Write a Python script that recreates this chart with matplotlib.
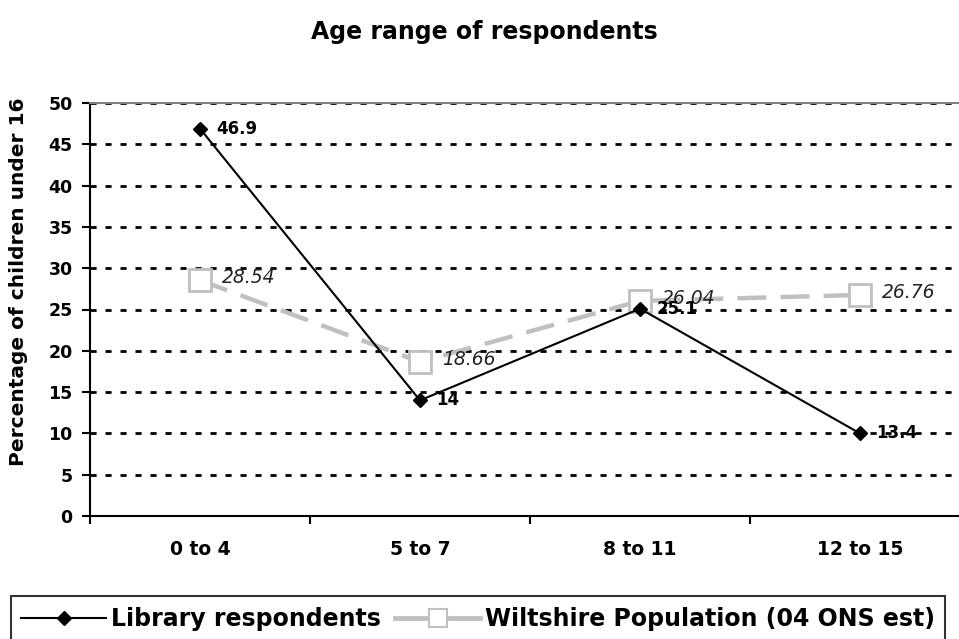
import matplotlib
matplotlib.use("Agg")
import matplotlib.pyplot as plt
from matplotlib.ticker import FixedLocator
from matplotlib.lines import Line2D

categories = ["0 to 4", "5 to 7", "8 to 11", "12 to 15"]
# marker heights (last point sits on the 10 gridline)
library = [46.9, 14, 25.1, 10.0]
wiltshire = [28.54, 18.66, 26.04, 26.76]
library_labels = ["46.9", "14", "25.1", "13.4"]
wiltshire_labels = ["28.54", "18.66", "26.04", "26.76"]

plt.rcParams['font.family'] = ['DejaVu Sans']

fig = plt.figure(figsize=(9.59, 6.39), dpi=100)
W, H = 959, 639
left, right, top, bottom = 90, 970, 103, 516
ax = fig.add_axes([left / W, 1 - bottom / H, (right - left) / W, (bottom - top) / H])

x = list(range(len(categories)))
gray = "#C0C0C0"

for yv in range(5, 51, 5):
    ax.axhline(yv, color="black", lw=2.0, dashes=(2.2, 3.2), zorder=1)

ax.plot(x, wiltshire, color=gray, lw=3.2, dashes=(6.5, 3.2), marker="s", markersize=16,
        markerfacecolor="white", markeredgecolor=gray, markeredgewidth=2, zorder=2)
ax.plot(x, library, color="black", lw=1.5, marker="D", markersize=7,
        markerfacecolor="black", markeredgecolor="black", zorder=3)

for xi, v, t in zip(x, library, library_labels):
    ax.annotate(t, (xi, v), xytext=(12, 0), textcoords="offset points", ha="left", va="center",
                fontsize=12, fontweight="bold", color="black", zorder=5)
for xi, v, t in zip(x, wiltshire, wiltshire_labels):
    ax.annotate(t, (xi, v), xytext=(16, 2), textcoords="offset points", ha="left", va="center",
                fontsize=13.5, fontstyle="italic", color="#222222", zorder=4)

ax.set_xlim(-0.5, 3.5)
ax.set_ylim(0, 50)
ax.set_yticks(range(0, 51, 5))
ax.set_xticks(x)
ax.set_xticklabels(categories, fontsize=13.5, fontweight="bold")
ax.xaxis.set_minor_locator(FixedLocator([-0.5, 0.5, 1.5, 2.5, 3.5]))
ax.tick_params(axis="x", which="major", length=0, pad=17)
ax.tick_params(axis="x", which="minor", length=5.5, width=1.5, direction="out")
ax.tick_params(axis="y", length=5.5, width=1.5, direction="out", labelsize=12.5, pad=7)
for lab in ax.get_yticklabels():
    lab.set_fontweight("bold")

ax.spines["top"].set_color("#808080")
ax.spines["top"].set_linewidth(1.5)
ax.spines["right"].set_visible(False)
ax.spines["left"].set_linewidth(1.5)
ax.spines["bottom"].set_linewidth(1.5)

ax.set_ylabel("Percentage of children under 16", fontsize=14.5, fontweight="bold")
ax.yaxis.set_label_coords(-0.07, 0.567)
fig.text(484 / W, 1 - 32 / H, "Age range of respondents", ha="center", va="center",
         fontsize=17, fontweight="bold")

handles = [
    Line2D([0], [0], color="black", lw=1.5, marker="D", markersize=7),
    Line2D([0], [0], color=gray, lw=3.5, marker="s", markersize=13,
           markerfacecolor="white", markeredgecolor=gray, markeredgewidth=1.5),
]
leg = fig.legend(handles, ["Library respondents", "Wiltshire Population (04 ONS est)"],
                 loc="center", bbox_to_anchor=(478 / W, 1 - 619 / H), ncol=2,
                 prop={"size": 17, "weight": "bold"}, frameon=True, fancybox=False,
                 edgecolor="black", handlelength=3.6, columnspacing=0.6, handletextpad=0.2,
                 borderpad=0.45, borderaxespad=0)
leg.get_frame().set_linewidth(1.5)

fig.savefig("out.png", dpi=100)
